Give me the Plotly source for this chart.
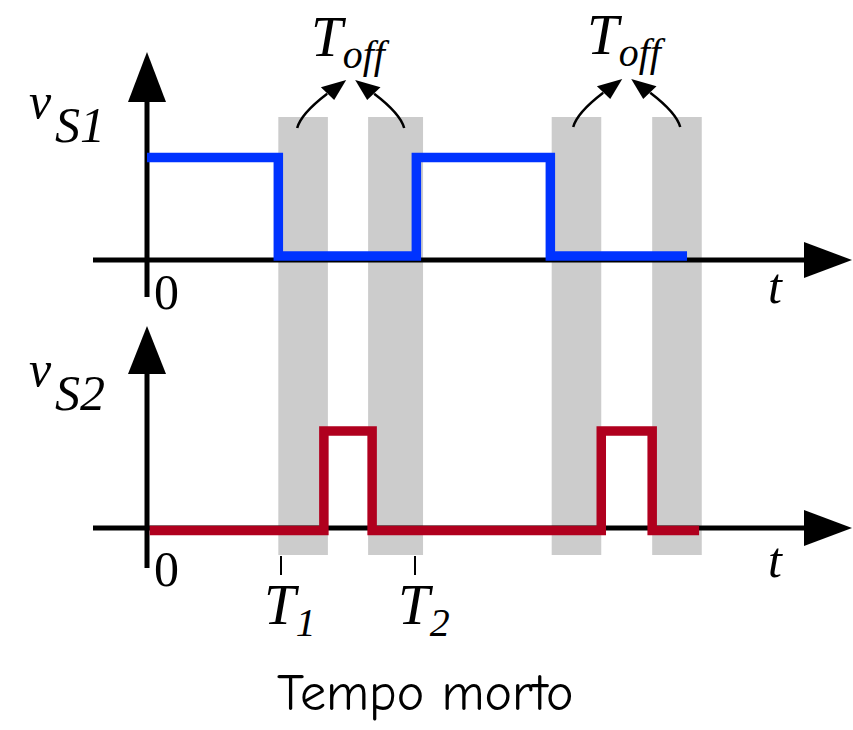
import plotly.graph_objects as go

W, H = 853, 730

# ---- data (time in units of the switching interval, levels 0/1) ----
t_s1 = [0.0, 0.98, 2.01, 3.01, 4.03]
v_s1 = [1, 0, 1, 0, 0]
t_s2 = [0.02, 1.32, 1.68, 3.39, 3.77, 4.12]
v_s2 = [0, 1, 0, 1, 0, 0]
band_start = [0.98, 1.65, 3.02, 3.77]
band_end = [1.35, 2.06, 3.39, 4.14]
tick_times = [1.0, 2.0]
tick_labels = ["<i>T<sub>1</sub></i>", "<i>T<sub>2</sub></i>"]
toff_label = "<i>T<sub>off</sub></i>"
title_text = "Tempo morto"

BLUE = "#0033ff"
RED = "#b0001e"
GRAY = "#cccccc"
SERIF = "Liberation Serif, Times New Roman, serif"


def px(x):
    return x / W


def py(y):
    return 1 - y / H


def P(x, y):
    return f"{px(x):.5f},{py(y):.5f}"


fig = go.Figure()
fig.add_trace(go.Scatter(x=t_s1, y=v_s1, mode="lines", line=dict(color=BLUE, width=9.5, shape="hv"),
                         xaxis="x", yaxis="y", hoverinfo="skip"))
fig.add_trace(go.Scatter(x=t_s2, y=v_s2, mode="lines", line=dict(color=RED, width=9.5, shape="hv"),
                         xaxis="x", yaxis="y2", hoverinfo="skip"))

shapes = []
# dead-time bands
for a, b in zip(band_start, band_end):
    shapes.append(dict(type="rect", xref="x", yref="paper", x0=a, x1=b,
                       y0=py(555), y1=py(117), fillcolor=GRAY, line=dict(width=0), layer="below"))


# axes (decorative arrows)
def axis_pair(y_axis, y_top_line, y_tip, y_bottom):
    out = []
    out.append(dict(type="line", xref="paper", yref="paper", x0=px(93), x1=px(806),
                    y0=py(y_axis), y1=py(y_axis), line=dict(color="black", width=5), layer="below"))
    out.append(dict(type="path", xref="paper", yref="paper",
                    path=f"M{P(804, y_axis-18)} L{P(852, y_axis)} L{P(804, y_axis+18)} Z",
                    fillcolor="black", line=dict(width=0), layer="below"))
    out.append(dict(type="line", xref="paper", yref="paper", x0=px(147), x1=px(147),
                    y0=py(y_bottom), y1=py(y_top_line), line=dict(color="black", width=5), layer="below"))
    out.append(dict(type="path", xref="paper", yref="paper",
                    path=f"M{P(128, y_top_line+2)} L{P(147, y_tip)} L{P(166, y_top_line+2)} Z",
                    fillcolor="black", line=dict(width=0), layer="below"))
    return out


shapes += axis_pair(260, 100, 52, 297)
shapes += axis_pair(528, 372, 326, 568)

# tick marks at T1, T2
for tt in tick_times:
    shapes.append(dict(type="line", xref="x", yref="paper", x0=tt, x1=tt, y0=py(556), y1=py(575),
                       line=dict(color="black", width=2)))


# curved T_off arrows
def curved_arrow(cx, sign, dy=0):
    S = (cx + sign * 53.5, 128 + dy)
    C = (cx + sign * 49.7, 113.7 + dy)
    B = (cx + sign * 23.5, 93.7 + dy)
    T = (cx + sign * 4.5, 80 + dy)
    b1 = (cx + sign * 29.8, 87.3 + dy)
    b2 = (cx + sign * 16.5, 100 + dy)
    line = dict(type="path", xref="paper", yref="paper",
                path=f"M{P(*S)} Q{P(*C)} {P(*B)}", line=dict(color="black", width=2.5))
    head = dict(type="path", xref="paper", yref="paper",
                path=f"M{P(*b1)} L{P(*T)} L{P(*b2)} Z", fillcolor="black", line=dict(width=0))
    return [line, head]


toff_centers = [(band_start[0] + band_end[1]) / 2, (band_start[2] + band_end[3]) / 2]
x_lo, x_hi = -147 / 134, 706 / 134


def t_to_px(t):
    return (t - x_lo) / (x_hi - x_lo) * W


for i, c in enumerate(toff_centers):
    cxp = t_to_px(c)
    shapes += curved_arrow(cxp, -1, -1 * i)
    shapes += curved_arrow(cxp, 1, -1 * i)


def txt(x, y, text, size, family=SERIF, xref="paper"):
    return dict(x=x, y=py(y), xref=xref, yref="paper", text=text, showarrow=False,
                xanchor="center", yanchor="middle",
                font=dict(family=family, size=size, color="black"))


ann = []
for i, c in enumerate(toff_centers):
    ann.append(txt(c, 41 - 2 * i, toff_label, 57, xref="x"))

for k, yoff in enumerate([0, 268]):
    ann.append(txt(px(40), 101 + yoff, "<i>v</i>", 50))
    ann.append(txt(px(80), 125 + yoff, f"<i>S{k+1}</i>", 50))

for yc in [292, 569]:
    ann.append(txt(px(166), yc, "0", 50))
for yc in [286, 560]:
    ann.append(txt(px(775), yc, "<i>t</i>", 50))

for tt, lab in zip(tick_times, tick_labels):
    ann.append(txt(tt + 0.07, 609, lab, 57, xref="x"))

ann.append(txt(px(425), 693, title_text, 52,
               family="Comic Sans MS, Comic Neue, DejaVu Sans, sans-serif"))

fig.update_layout(
    width=W, height=H,
    margin=dict(l=0, r=0, t=0, b=0),
    paper_bgcolor="white", plot_bgcolor="rgba(0,0,0,0)",
    showlegend=False,
    shapes=shapes,
    annotations=ann,
    xaxis=dict(range=[x_lo, x_hi], domain=[0, 1], visible=False, fixedrange=True),
    yaxis=dict(range=[(256 - 365) / 98.5, 256 / 98.5], domain=[0.5, 1], visible=False, fixedrange=True),
    yaxis2=dict(range=[(530.5 - 730) / 99.5, (530.5 - 365) / 99.5], domain=[0, 0.5], visible=False,
                fixedrange=True, anchor="x"),
)

fig.write_html("out.html", config={"displayModeBar": False},
               post_script="document.body.style.margin='0';document.body.style.overflow='hidden';")
